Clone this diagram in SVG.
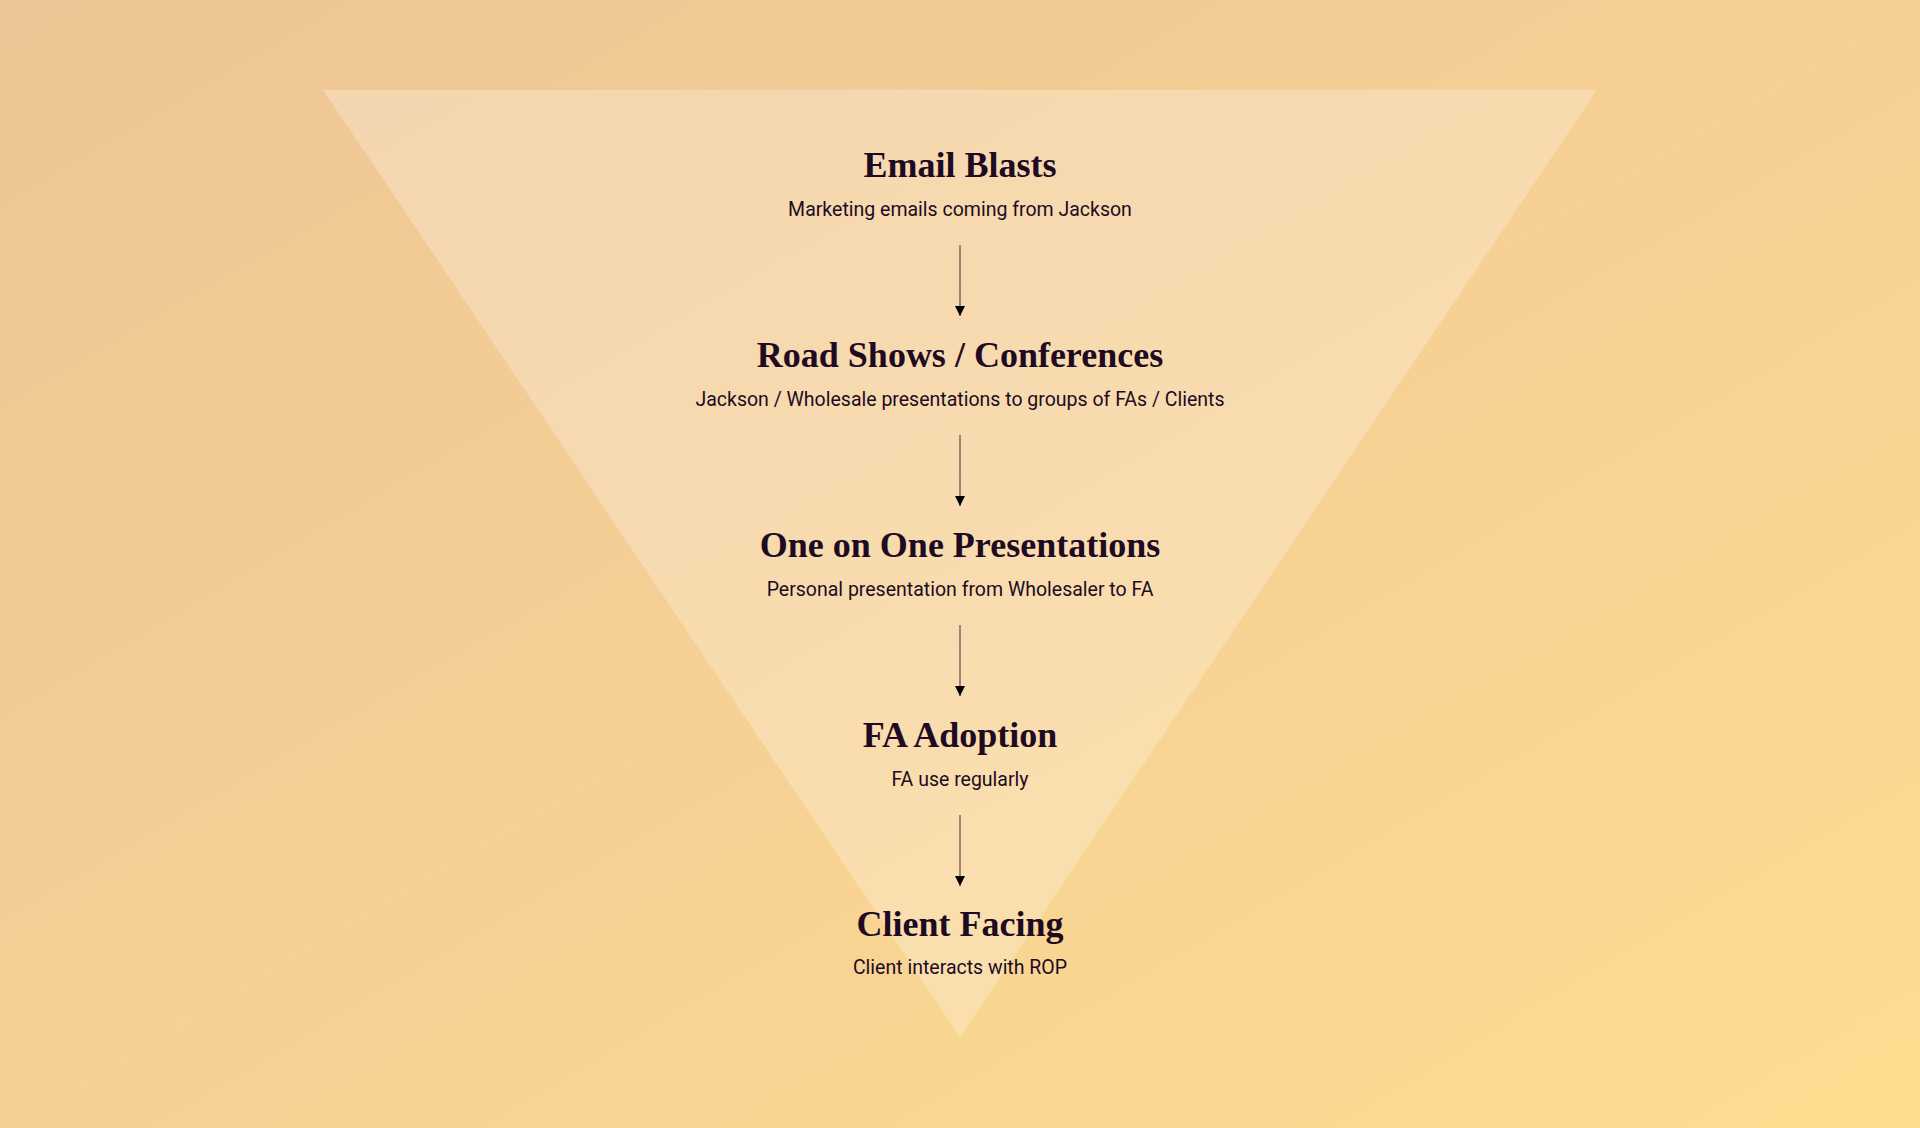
<svg xmlns="http://www.w3.org/2000/svg" width="1920" height="1128" viewBox="0 0 1920 1128">
  <defs>
    <linearGradient id="bg" x1="0" y1="0" x2="1" y2="1">
      <stop offset="0" stop-color="#edc596"/>
      <stop offset="0.5" stop-color="#f6d094"/>
      <stop offset="1" stop-color="#fedd90"/>
    </linearGradient>
    <marker id="arrow" viewBox="0 0 10 10" refX="10" refY="5" markerWidth="10" markerHeight="10" markerUnits="userSpaceOnUse" orient="auto">
      <path d="M0,0 L10,5 L0,10 Z" fill="#000"/>
    </marker>
    <style>
      .title { font-family: "Liberation Serif", "DejaVu Serif", serif; font-weight: bold; font-size: 36px; fill: #1e0b22; text-anchor: middle; }
      .sub { font-family: Roboto, "Liberation Sans", sans-serif; font-size: 19.5px; fill: #1e0b22; text-anchor: middle; }
      .conn { stroke: #1e0b22; stroke-opacity: 0.55; stroke-width: 1.5; fill: none; }
    </style>
  </defs>
  <rect width="1920" height="1128" fill="url(#bg)"/>
  <polygon points="323,90 1597,90 960,1037" fill="#ffffff" fill-opacity="0.25"/>

  <g id="connectors">
    <line class="conn" x1="960" y1="245" x2="960" y2="316" marker-end="url(#arrow)"/>
    <line class="conn" x1="960" y1="435" x2="960" y2="506" marker-end="url(#arrow)"/>
    <line class="conn" x1="960" y1="625" x2="960" y2="696" marker-end="url(#arrow)"/>
    <line class="conn" x1="960" y1="815" x2="960" y2="886" marker-end="url(#arrow)"/>
  </g>

  <g id="node-email-blasts">
    <text class="title" x="960" y="177">Email Blasts</text>
    <text class="sub" x="960" y="216">Marketing emails coming from Jackson</text>
  </g>
  <g id="node-road-shows">
    <text class="title" x="960" y="367">Road Shows / Conferences</text>
    <text class="sub" x="960" y="406">Jackson / Wholesale presentations to groups of FAs / Clients</text>
  </g>
  <g id="node-one-on-one">
    <text class="title" x="960" y="557">One on One Presentations</text>
    <text class="sub" x="960" y="596">Personal presentation from Wholesaler to FA</text>
  </g>
  <g id="node-fa-adoption">
    <text class="title" x="960" y="747">FA Adoption</text>
    <text class="sub" x="960" y="786">FA use regularly</text>
  </g>
  <g id="node-client-facing">
    <text class="title" x="960" y="936">Client Facing</text>
    <text class="sub" x="960" y="974">Client interacts with ROP</text>
  </g>
</svg>
